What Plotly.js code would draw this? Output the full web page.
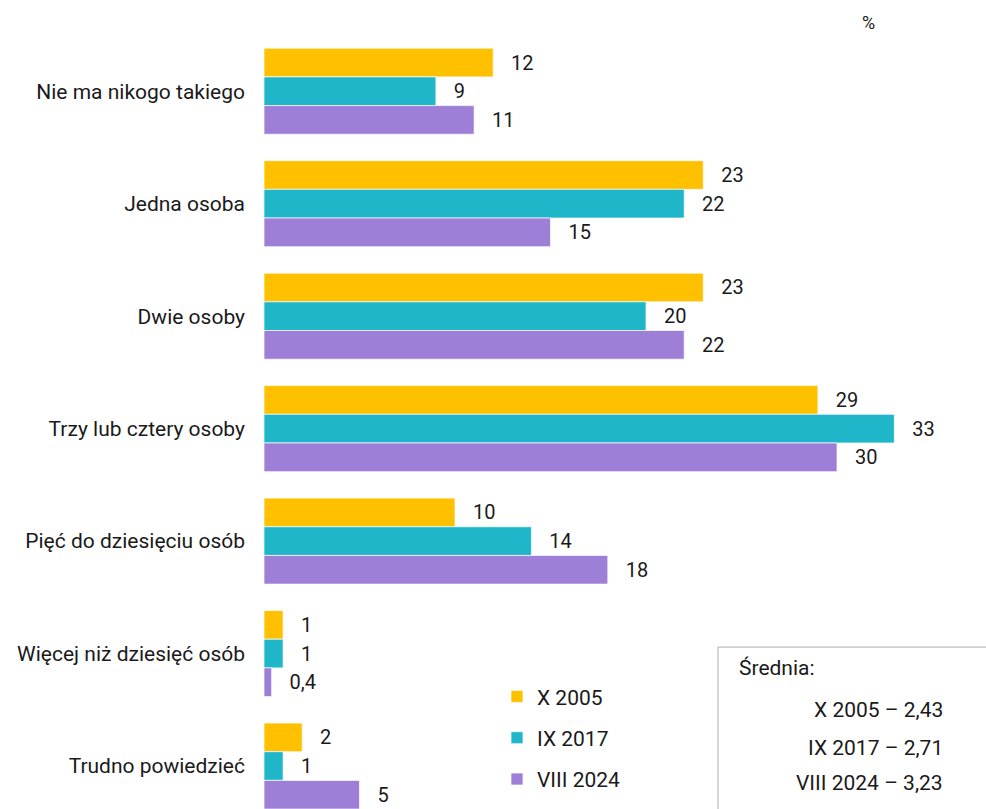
<!DOCTYPE html>
<html>
<head>
<meta charset="utf-8">
<script src="https://cdn.plot.ly/plotly-3.0.1.min.js"></script>
<style>html,body{margin:0;padding:0;background:#fff;}#chart{width:986px;height:809px;}</style>
</head>
<body>
<div id="chart"></div>
<script>
const categories = ["Nie ma nikogo takiego","Jedna osoba","Dwie osoby","Trzy lub cztery osoby","Pięć do dziesięciu osób","Więcej niż dziesięć osób","Trudno powiedzieć"];
const seriesNames = ["X 2005","IX 2017","VIII 2024"];
const x2005 = [12,23,23,29,10,1,2];
const ix2017 = [9,22,20,33,14,1,1];
const viii2024 = [11,15,22,30,18,0.4,5];
const averageLabels = ["X 2005 – 2,43","IX 2017 – 2,71","VIII 2024 – 3,23"];
const colors = ["#FFC000","#1FB6CA","#9E7FD8"];
const allSeries = [x2005, ix2017, viii2024];

const fmt = v => String(v).replace('.', ',');

const traces = allSeries.map((vals, i) => ({
  type: 'bar',
  orientation: 'h',
  name: seriesNames[i],
  legendgroup: 'g' + i,
  y: categories,
  x: vals,
  text: vals.map(v => '   ' + fmt(v)),
  textposition: 'outside',
  cliponaxis: false,
  textfont: {family: 'Roboto, sans-serif', size: 20, color: '#1a1a1a'},
  marker: {color: colors[i], line: {color: 'rgba(255,255,255,0.7)', width: 1}},
  hoverinfo: 'x+y'
}));

const layout = {
  width: 986, height: 809,
  margin: {l: 264, r: 0, t: 34.75, b: 0, pad: 0},
  paper_bgcolor: '#ffffff', plot_bgcolor: '#ffffff',
  font: {family: 'Roboto, sans-serif', size: 21, color: '#1a1a1a'},
  barmode: 'group',
  bargap: 0.235,
  bargroupgap: 0,
  xaxis: {range: [0, 37.8], showgrid: false, zeroline: false, showticklabels: false, showline: false, ticks: ''},
  yaxis: {type: 'category', categoryorder: 'array', categoryarray: categories, range: [6.382, -0.5],
          showgrid: false, zeroline: false, showline: false, ticks: '', ticklabelstandoff: 18,
          tickfont: {family: 'Roboto, sans-serif', size: 21, color: '#1a1a1a'}, automargin: false},
  showlegend: true,
  legend: {x: 0.3227, y: 0.1715, xanchor: 'left', yanchor: 'top', orientation: 'v', traceorder: 'grouped',
           tracegroupgap: 11, bgcolor: 'rgba(0,0,0,0)', font: {family: 'Roboto, sans-serif', size: 21, color: '#1a1a1a'},
           itemwidth: 30},
  shapes: [{type: 'rect', xref: 'paper', yref: 'paper', x0: 0.6288, x1: 1.05, y0: -0.05, y1: 0.2092,
            line: {color: '#b0b0b0', width: 1}, fillcolor: 'rgba(0,0,0,0)'}],
  annotations: [
    {xref: 'paper', yref: 'paper', x: 0.8366, y: 1.0165, text: '%', showarrow: false, xanchor: 'center', yanchor: 'middle', font: {size: 18}},
    {xref: 'paper', yref: 'paper', x: 0.6551, y: 0.1821, text: 'Średnia:', showarrow: false, xanchor: 'left', yanchor: 'middle'},
    {xref: 'paper', yref: 'paper', x: 0.9432, y: 0.1279, text: averageLabels[0], showarrow: false, xanchor: 'right', yanchor: 'middle'},
    {xref: 'paper', yref: 'paper', x: 0.9432, y: 0.0788, text: averageLabels[1], showarrow: false, xanchor: 'right', yanchor: 'middle'},
    {xref: 'paper', yref: 'paper', x: 0.9432, y: 0.0336, text: averageLabels[2], showarrow: false, xanchor: 'right', yanchor: 'middle'}
  ]
};

Plotly.newPlot('chart', traces, layout, {displayModeBar: false, staticPlot: true});
</script>
</body>
</html>
